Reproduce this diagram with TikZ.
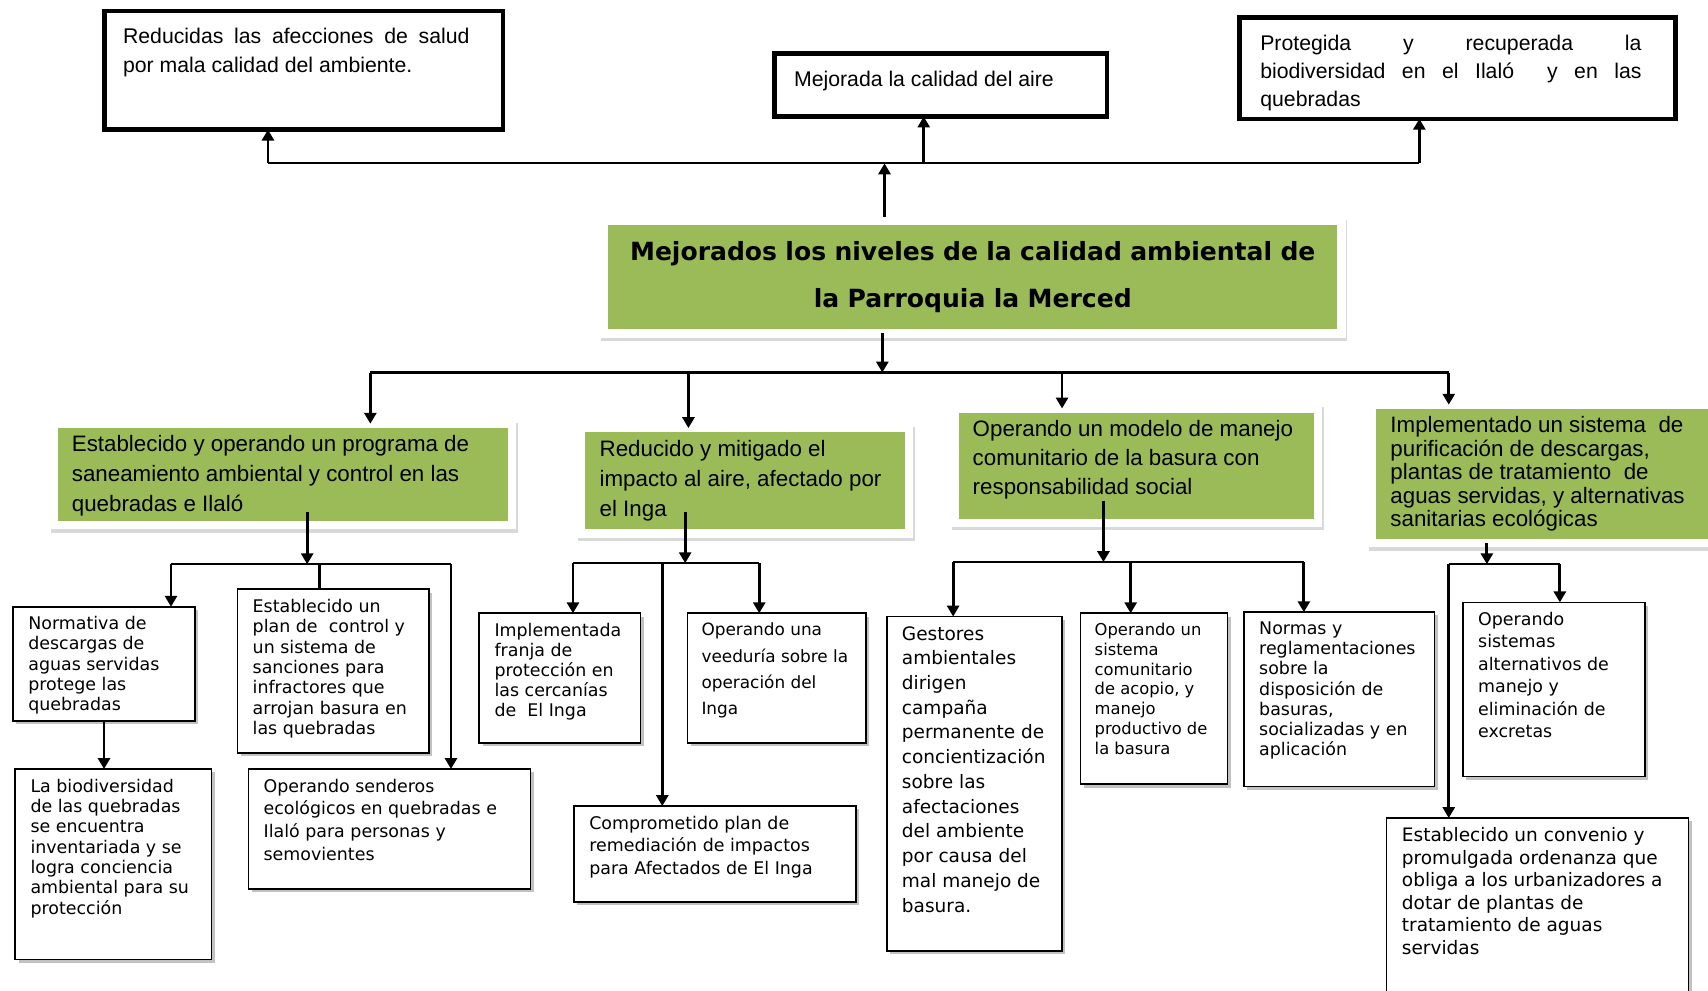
\documentclass[tikz,border=0pt]{standalone}
\usepackage{fontspec}
\setmainfont{Liberation Sans}
\newfontfamily\tahoma{DejaVu Sans}
\usetikzlibrary{arrows.meta,shadows}
\definecolor{verdeolivo}{HTML}{9BBB59}
\newcommand{\caja}[3]{\parbox[t][#2][t]{#1}{\raggedright #3}}
\newcommand{\cajaj}[3]{\parbox[t][#2][t]{#1}{#3}}
\tikzset{
  meta/.style={draw, line width=4pt, fill=white, inner xsep=18pt, inner ysep=16pt, outer sep=0pt,
    anchor=north west, font=\fontsize{19.5}{26}\selectfont},
  verde/.style={fill=verdeolivo, draw=white, line width=8pt, inner xsep=17pt, inner ysep=11pt, outer sep=0pt,
    anchor=north west, font=\fontsize{20.5}{27.5}\selectfont,
    drop shadow={shadow xshift=1.5pt, shadow yshift=-3pt, fill=black!15, draw=black!15, opacity=1}},
  cajita/.style={draw, line width=1.5pt, fill=white, inner xsep=14pt, inner ysep=9pt, outer sep=0pt,
    anchor=north west, font=\tahoma\fontsize{16}{18.5}\selectfont,
    drop shadow={shadow xshift=3pt, shadow yshift=-3pt, fill=black!40, opacity=.6}},
  flecha/.style={line width=2.6pt, -{Triangle[length=10pt,width=11pt]}},
  linea/.style={line width=2pt},
}
\begin{document}
\begin{tikzpicture}[x=1pt, y=-1pt]
    \useasboundingbox (0,0) rectangle (1568,909);
    % fines
    \node[meta, inner xsep=17pt, minimum width=366pt] (A) at (96,10) {\cajaj{318pt}{77pt}{Reducidas las afecciones de salud\linebreak por mala calidad del ambiente.}\hspace*{14pt}};
    \node[meta] (B) at (711,49) {\caja{269pt}{26pt}{Mejorada la calidad del aire}};
    \node[meta, minimum width=400pt] (C) at (1138,16) {\cajaj{350pt}{61pt}{Protegida y recuperada la\linebreak biodiversidad en el Ilaló\ \ y en las\linebreak quebradas}\hspace*{12pt}};
    % proposito
    \node[verde, anchor=center, minimum width=677pt, minimum height=103pt, text width=640pt, align=center,
      font=\tahoma\bfseries\fontsize{23}{43}\selectfont] (T) at (893,254.5)
      {Mejorados los niveles de la calidad ambiental de\\la Parroquia la Merced};
    % componentes
    \node[verde] (G1) at (49,389) {\caja{387pt}{71pt}{Establecido y operando un programa de\\saneamiento ambiental y control en las\\quebradas e Ilaló}};
    \node[verde] (G2) at (533.5,393) {\caja{267pt}{75pt}{Reducido y mitigado el\\impacto al aire, afectado por\\el Inga}};
    \node[verde, font=\fontsize{20.5}{26.5}\selectfont] (G3) at (876,375) {\caja{300pt}{83pt}{Operando un modelo de manejo\\comunitario de la basura con\\responsabilidad social}};
    \node[verde, font=\fontsize{20.5}{21.5}\selectfont] (G4) at (1259.5,371.5) {\caja{282pt}{105pt}{Implementado un sistema\ \ de\\purificación de descargas,\\plantas de tratamiento\ \ de\\aguas servidas, y alternativas\\sanitarias ecológicas}};
    % actividades
    \node[cajita] (N1) at (12,557) {\caja{139pt}{87pt}{Normativa de\\descargas de\\aguas servidas\\protege las\\quebradas}};
    \node[cajita, font=\tahoma\fontsize{16}{18.7}\selectfont] (L1) at (14,706) {\caja{152pt}{157pt}{La biodiversidad\\de las quebradas\\se encuentra\\inventariada y se\\logra conciencia\\ambiental para su\\protección}};
    \node[cajita, font=\tahoma\fontsize{16}{18.7}\selectfont] (E1) at (218,541) {\caja{148pt}{132pt}{Establecido un\\plan de\ \ control y\\un sistema de\\sanciones para\\infractores que\\arrojan basura en\\las quebradas}};
    \node[cajita, font=\tahoma\fontsize{16}{21}\selectfont] (O1) at (228,706) {\caja{231pt}{92pt}{Operando senderos\\ecológicos en quebradas e\\Ilaló para personas y\\semovientes}};
    \node[cajita, font=\tahoma\fontsize{16}{18.3}\selectfont] (I1) at (440,563) {\caja{120pt}{101pt}{Implementada\\franja de\\protección en\\las cercanías\\de\ \ El Inga}};
    \node[cajita, inner xsep=13pt, font=\tahoma\fontsize{15.5}{24}\selectfont] (V1) at (631,563) {\caja{138pt}{101pt}{Operando una\\veeduría sobre la\\operación del\\Inga}};
    \node[cajita, font=\tahoma\fontsize{16}{21}\selectfont] (C1) at (527,740) {\caja{231pt}{70pt}{Comprometido plan de\\remediación de impactos\\para Afectados de El Inga}};
    \node[cajita, font=\tahoma\fontsize{17}{22.7}\selectfont] (Ge) at (814,566) {\caja{133pt}{289pt}{Gestores\\ambientales\\dirigen\\campaña\\permanente de\\concientización\\sobre las\\afectaciones\\del ambiente\\por causa del\\mal manejo de\\basura.}};
    \node[cajita, inner xsep=13pt, font=\tahoma\fontsize{15}{18.2}\selectfont] (S1) at (992,563) {\caja{109pt}{139pt}{Operando un\\sistema\\comunitario\\de acopio, y\\manejo\\productivo de\\la basura}};
    \node[cajita] (NR) at (1142,562) {\caja{147pt}{142pt}{Normas y\\reglamentaciones\\sobre la\\disposición de\\basuras,\\socializadas y en\\aplicación}};
    \node[cajita, font=\tahoma\fontsize{16}{20.6}\selectfont] (OS) at (1343,553) {\caja{139pt}{142pt}{Operando\\sistemas\\alternativos de\\manejo y\\eliminación de\\excretas}};
    \node[cajita, font=\tahoma\fontsize{17}{20.6}\selectfont] (Es) at (1273,751) {\caja{249pt}{146pt}{Establecido un convenio y\\promulgada ordenanza que\\obliga a los urbanizadores a\\dotar de plantas de\\tratamiento de aguas\\servidas}};
    % conectores superiores
    \coordinate (sup) at (812,150);
    \coordinate (supA) at (246,150);
    \coordinate (supB) at (848,150);
    \coordinate (supC) at (1303,150);
    \draw[linea] (supA) -- (supC);
    \draw[flecha] ([yshift=4pt]T.north -| sup) -- (sup);
    \draw[flecha] (supA) -- (supA |- A.south);
    \draw[flecha] (supB) -- (supB |- B.south);
    \draw[flecha] (supC) -- (supC |- C.south);
    % conectores a componentes
    \coordinate (med) at (810,342);
    \coordinate (med1) at (340,342);
    \coordinate (med2) at (632,342);
    \coordinate (med3) at (975,342);
    \coordinate (med4) at (1330,342);
    \draw[linea] (med1) -- (med4);
    \draw[flecha] (T.south -| med) -- (med);
    \draw[flecha] (med1) -- (med1 |- G1.north);
    \draw[flecha] (med2) -- (med2 |- G2.north);
    \draw[flecha] (med3) -- (med3 |- G3.north);
    \draw[flecha] (med4) -- (med4 |- G4.north);
    % componente 1
    \coordinate (r1) at (282,518);
    \coordinate (r1a) at (157,518);
    \coordinate (r1b) at (293,518);
    \coordinate (r1c) at (414,518);
    \draw[flecha] ([yshift=12pt]G1.south -| r1) -- (r1);
    \draw[linea] (r1a) -- (r1c);
    \draw[flecha] (r1a) -- (r1a |- N1.north);
    \draw[line width=2.6pt] (r1b) -- (r1b |- E1.north);
    \draw[flecha] (r1c) -- (r1c |- O1.north);
    \draw[flecha] (N1.south) -- (N1.south |- L1.north);
    % componente 2
    \coordinate (r2) at (629,517);
    \coordinate (r2a) at (526,517);
    \coordinate (r2b) at (608,517);
    \coordinate (r2c) at (697,517);
    \draw[flecha] ([yshift=20pt]G2.south -| r2) -- (r2);
    \draw[linea] (r2a) -- (r2c);
    \draw[flecha] (r2a) -- (r2a |- I1.north);
    \draw[flecha] (r2b) -- (r2b |- C1.north);
    \draw[flecha] (r2c) -- (r2c |- V1.north);
    % componente 3
    \coordinate (r3) at (1013,516);
    \coordinate (r3a) at (875,516);
    \coordinate (r3b) at (1038,516);
    \coordinate (r3c) at (1197,516);
    \draw[flecha] ([yshift=20pt]G3.south -| r3) -- (r3);
    \draw[linea] (r3a) -- (r3c);
    \draw[flecha] (r3a) -- (r3a |- Ge.north);
    \draw[flecha] (r3b) -- (r3b |- S1.north);
    \draw[flecha] (r3c) -- (r3c |- NR.north);
    % componente 4
    \coordinate (r4) at (1365,518);
    \coordinate (r4a) at (1330,518);
    \coordinate (r4b) at (1432,518);
    \draw[flecha] (G4.south -| r4) -- (r4);
    \draw[linea] (r4a) -- (r4b);
    \draw[flecha] (r4b) -- (r4b |- OS.north);
    \draw[flecha] (r4a) -- (r4a |- Es.north);
\end{tikzpicture}
\end{document}
